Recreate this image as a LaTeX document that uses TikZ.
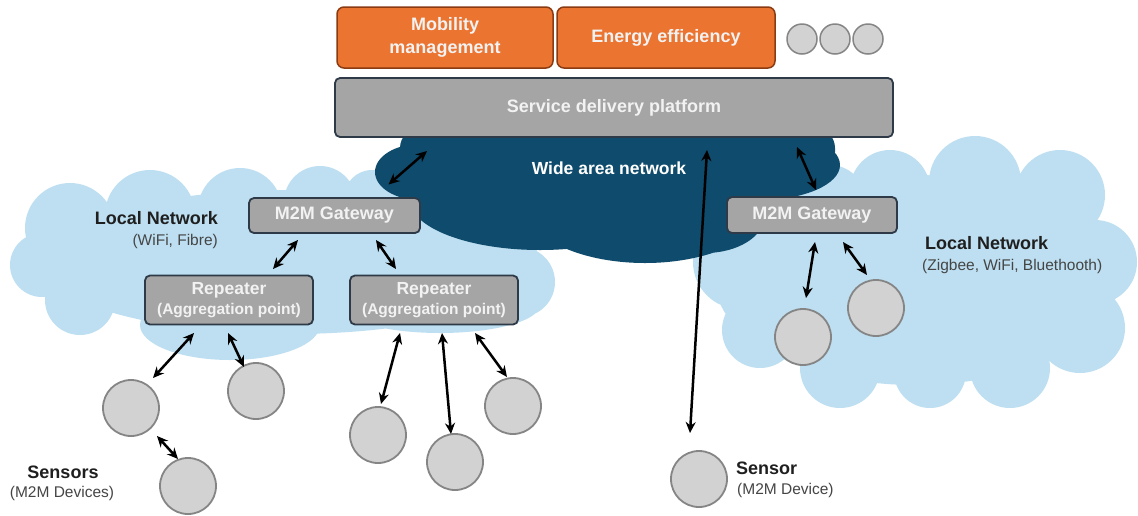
\documentclass[tikz,border=0pt]{standalone}
\usepackage{fontspec}
\setmainfont{Liberation Sans}
\usetikzlibrary{arrows.meta,calc}
\definecolor{orng}{HTML}{EB7431}
\definecolor{orngb}{HTML}{8A3B12}
\definecolor{boxg}{HTML}{A5A5A5}
\definecolor{boxb}{HTML}{2E3A48}
\definecolor{wancol}{HTML}{0E4B6C}
\definecolor{lancol}{HTML}{BDDFF1}
\definecolor{senscol}{HTML}{D2D2D2}
\definecolor{sensb}{HTML}{858585}
\definecolor{txtw}{HTML}{F2F2F2}
\definecolor{txtd}{HTML}{1F1F1F}
\definecolor{txtg}{HTML}{454545}
\begin{document}
\begin{tikzpicture}[x=1pt,y=-1pt,
  appbox/.style={draw=orngb, fill=orng, line width=1.5, rounded corners=7, minimum width=216, minimum height=61, text=txtw, font=\bfseries\fontsize{18}{23}\selectfont, align=center, inner sep=0},
  graybox/.style={draw=boxb, fill=boxg, line width=1.8, rounded corners=5, text=txtw, align=center, inner sep=0},
  dotc/.style={circle, draw=sensb, fill=senscol, line width=1.5, minimum size=30, inner sep=0},
  sensor/.style={circle, draw=sensb, fill=senscol, line width=1.8, minimum size=56, inner sep=0},
  arr/.style={{Stealth[length=11,width=10]}-{Stealth[length=11,width=10]}, line width=2.5, black},
  titletxt/.style={font=\bfseries\fontsize{18}{22}\selectfont, text=txtd, inner sep=0},
  subtxt/.style={font=\fontsize{15.5}{19}\selectfont, text=txtg, inner sep=0}
]
\useasboundingbox (0,0) rectangle (1138,515);
\fill[white] (0,0) rectangle (1138,515);
% left local network cloud
\fill[lancol] (290,262) ellipse [x radius=250, y radius=72]
  (70,228) circle [radius=45] (150,215) circle [radius=45] (240,210) circle [radius=42]
  (320,202) circle [radius=36] (372,198) circle [radius=28] (42,265) circle [radius=32] (80,300) circle [radius=35]
  (230,325) ellipse [x radius=90, y radius=35] (440,305) ellipse [x radius=100, y radius=28]
  (520,282) circle [radius=35] (500,240) circle [radius=35];
% right local network cloud
\fill[lancol] (915,280) ellipse [x radius=200, y radius=105]
  (760,230) circle [radius=45] (740,262) circle [radius=47] (760,330) circle [radius=38]
  (840,368) circle [radius=40] (930,372) circle [radius=36] (1010,368) circle [radius=40]
  (1080,328) circle [radius=45] (1095,262) circle [radius=42] (1060,195) circle [radius=45]
  (975,182) circle [radius=46] (890,190) circle [radius=40] (830,200) circle [radius=35];
% wide area network cloud
\fill[wancol] (420,172) ellipse [x radius=45, y radius=28]
  (540,200) ellipse [x radius=130, y radius=50]
  (645,205) ellipse [x radius=120, y radius=58]
  (760,165) ellipse [x radius=80, y radius=35]
  (705,215) ellipse [x radius=60, y radius=38];
\fill[wancol, rounded corners=20] (400,128) rectangle (835,172);
\node[font=\bfseries\fontsize{17.5}{21}\selectfont, text=white, inner sep=0] (wan) at (609,168) {Wide area network};
% top boxes
\node[appbox] (mob) at (445,37.5) {Mobility\\management};
\node[appbox, minimum width=218] (eff) at (666,37.5) {Energy efficiency};
\node[dotc] (d1) at (802,39) {};
\node[dotc] (d2) at (835,39) {};
\node[dotc] (d3) at (868,39) {};
\node[graybox, minimum width=558, minimum height=59, font=\bfseries\fontsize{18}{22}\selectfont] (sdp) at (614,107.5) {Service delivery platform};
% gateways and repeaters
\node[graybox, minimum width=171, minimum height=35, font=\bfseries\fontsize{18}{22}\selectfont] (gwL) at (334.5,215.5) {M2M Gateway};
\node[graybox, minimum width=170, minimum height=36, font=\bfseries\fontsize{18}{22}\selectfont] (gwR) at (812,215) {M2M Gateway};
\node[graybox, minimum width=168, minimum height=49] (rep1) at (229,300) {{\bfseries\fontsize{17.5}{21}\selectfont Repeater}\\[4pt]{\bfseries\fontsize{15.5}{19}\selectfont (Aggregation point)}};
\node[graybox, minimum width=168, minimum height=49] (rep2) at (434,300) {{\bfseries\fontsize{17.5}{21}\selectfont Repeater}\\[4pt]{\bfseries\fontsize{15.5}{19}\selectfont (Aggregation point)}};
% sensors
\node[sensor] (s1) at (131,408) {};
\node[sensor] (s2) at (256,391) {};
\node[sensor] (s3) at (188,486) {};
\node[sensor] (s4) at (378,435) {};
\node[sensor] (s5) at (455,462) {};
\node[sensor] (s6) at (513,406) {};
\node[sensor] (rA) at (803,337) {};
\node[sensor] (rB) at (876,308) {};
\node[sensor] (sc) at (699,479) {};
% labels
\node[titletxt, anchor=east] (lnL) at (218,218) {Local Network};
\node[subtxt, anchor=east] (lnLs) at (218,241) {(WiFi, Fibre)};
\node[titletxt, anchor=west] (lnR) at (925,243) {Local Network};
\node[subtxt, anchor=west] (lnRs) at (922,266) {(Zigbee, WiFi, Bluethooth)};
\node[titletxt] (sL) at (63,472) {Sensors};
\node[subtxt] (sLs) at (62,493) {(M2M Devices)};
\node[titletxt, anchor=west] (sR) at (736,468) {Sensor};
\node[subtxt, anchor=west] (sRs) at (737,490) {(M2M Device)};
% connectors
\draw[arr] ($(wan)+(-182,-17)$) -- ($(gwL)+(54,-31)$);
\draw[arr] ($(gwL)+(-36.5,24.5)$) -- ($(rep1)+(44,-31)$);
\draw[arr] ($(gwL)+(41.5,24.5)$) -- ($(rep2)+(-38,-31)$);
\draw[arr] ($(rep1)+(-35,33)$) -- ($(s1)+(22,-30)$);
\draw[arr] ($(rep1)+(-1,33)$) -- ($(s2)+(-12,-24)$);
\draw[arr] ($(s1)+(26,28)$) -- ($(s3)+(-10,-27)$);
\draw[arr] ($(rep2)+(-34,33)$) -- ($(s4)+(3,-31)$);
\draw[arr] ($(rep2)+(8,33)$) -- ($(s5)+(-4,-28)$);
\draw[arr] ($(rep2)+(41,33)$) -- ($(s6)+(-6,-29)$);
\draw[arr] ($(wan)+(188,-21)$) -- ($(gwR)+(4,-25)$);
\draw[arr] ($(gwR)+(3,27)$) -- ($(rA)+(3,-39)$);
\draw[arr] ($(gwR)+(31,27)$) -- ($(rB)+(-9,-33)$);
\draw[arr] ($(sdp)+(93,42.5)$) -- ($(sc)+(-9,-46)$);
\end{tikzpicture}
\end{document}
